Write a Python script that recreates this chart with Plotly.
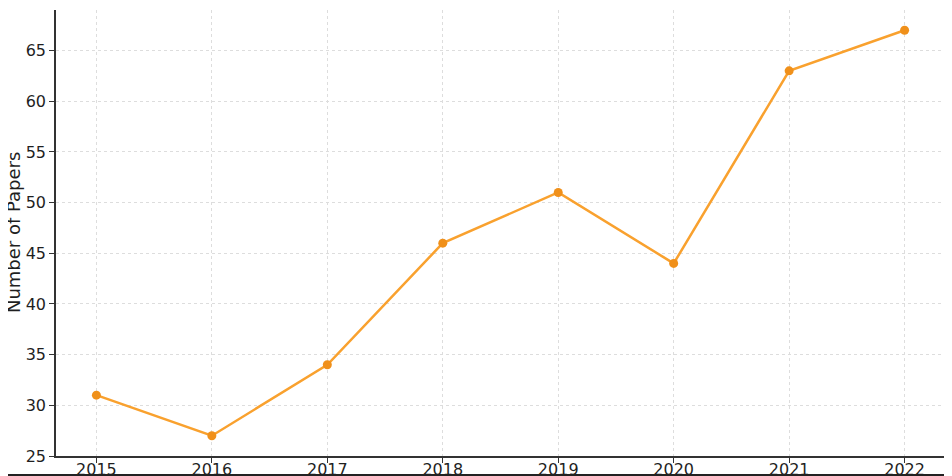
import plotly.graph_objects as go

years = [2015, 2016, 2017, 2018, 2019, 2020, 2021, 2022]
papers = [31, 27, 34, 46, 51, 44, 63, 67]
y_ticks = [25, 30, 35, 40, 45, 50, 55, 60, 65]
y_title = "Number of Papers"

fig = go.Figure()
fig.add_trace(go.Scatter(
    x=years, y=papers, mode="lines+markers",
    line=dict(color="#F9A12E", width=2.5),
    marker=dict(color="#F0901A", size=9),
    showlegend=False,
))

font_fam = "DejaVu Sans"
# page body has an 8px default margin; compensate so the plot lands where the reference has it
fig.update_layout(
    width=952, height=476,
    margin=dict(l=48, r=15, t=2, b=28, autoexpand=False),
    plot_bgcolor="white", paper_bgcolor="white",
    font=dict(family=font_fam, color="#1f1f1f"),
)
fig.update_xaxes(
    range=[2014.65, 2022.35], tickmode="array", tickvals=years,
    ticktext=[str(y) for y in years],
    showgrid=True, gridcolor="#dddddd", griddash="dot", gridwidth=1,
    showline=True, linecolor="#333333", linewidth=1.5,
    ticks="outside", ticklen=5, tickcolor="#333333",
    tickfont=dict(size=16, family=font_fam, color="#1f1f1f"),
    ticklabelstandoff=-7,
    zeroline=False, automargin=False,
)
fig.update_yaxes(
    range=[25, 69], tickmode="array", tickvals=y_ticks,
    showgrid=True, gridcolor="#dddddd", griddash="dot", gridwidth=1,
    showline=True, linecolor="#333333", linewidth=1.5,
    ticks="outside", ticklen=5, tickcolor="#333333",
    tickfont=dict(size=16, family=font_fam, color="#1f1f1f"),
    zeroline=False, automargin=False,
)
fig.add_annotation(
    text=y_title, xref="paper", yref="paper", x=-0.0483, y=0.5,
    xanchor="center", yanchor="middle", textangle=-90, showarrow=False,
    font=dict(size=18, family=font_fam, color="#1f1f1f"),
)
fig.add_shape(type="line", xref="paper", yref="paper",
              x0=-0.07, x1=1.03, y0=-0.0426, y1=-0.0426,
              line=dict(color="#222222", width=2))

fig.write_html("out.html")
